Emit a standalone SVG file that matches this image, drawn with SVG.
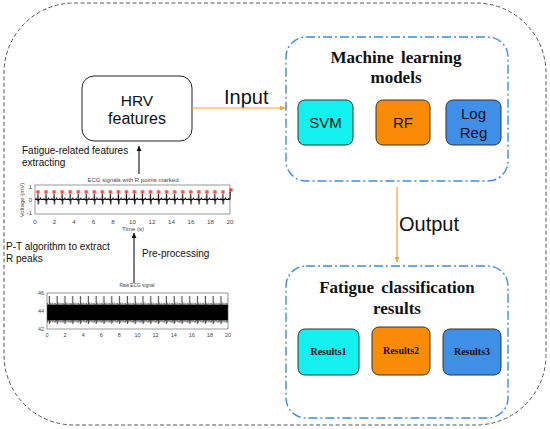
<svg xmlns="http://www.w3.org/2000/svg" width="550" height="429" viewBox="0 0 550 429">
<style>
.sans{font-family:"Liberation Sans",Arial,sans-serif;fill:#111}
.serif{font-family:"Liberation Serif","Times New Roman",serif;font-weight:bold;fill:#111}
.tick{font-family:"Liberation Sans",Arial,sans-serif;fill:#444}
.dd{fill:none;stroke:#3C8DDA;stroke-width:1.4;stroke-dasharray:9 3 2 3}
.mbox{stroke:#333;stroke-width:1}
.ax{fill:none;stroke:#555;stroke-width:0.6}
</style>
<defs>
<marker id="ao" viewBox="0 0 10 10" refX="10" refY="5" markerWidth="5" markerHeight="5" markerUnits="userSpaceOnUse" orient="auto"><path d="M0,0L10,5L0,10z" fill="#F2A33A"/></marker>
<marker id="ab" viewBox="0 0 10 10" refX="10" refY="5" markerWidth="5" markerHeight="5" markerUnits="userSpaceOnUse" orient="auto"><path d="M0,0L10,5L0,10z" fill="#111"/></marker>
<pattern id="beat" patternUnits="userSpaceOnUse" x="34" y="185" width="8.04" height="29">
<path d="M0,14.5L1.2,14.5L1.8,13.6L2.4,14.5L3.4,14.5L3.7,15.6L4,8.5L4.3,19.5L4.7,14.5L5.9,14.5L6.7,13L7.4,14.5L8.04,14.5" fill="none" stroke="#000" stroke-width="1"/>
<circle cx="4" cy="7" r="2.3" fill="#F6A0A0"/>
<path d="M2.4,7H5.6M4,5.4V8.6M2.9,5.9L5.1,8.1M5.1,5.9L2.9,8.1" stroke="#E83030" stroke-width="0.6"/>
</pattern>
<pattern id="raw" patternUnits="userSpaceOnUse" x="47" y="293" width="7.8" height="36">
<rect x="0" y="12" width="7.8" height="15" fill="#000"/>
<path d="M0.5,10V29.5M1.4,11V28.4M3.2,9.6V29.8M4.1,11V28M5,9.6V29.2M6,10.8V28.6M7,10.2V29.6" stroke="#000" stroke-width="0.6"/>
<path d="M2.3,3V31" stroke="#000" stroke-width="0.8"/>
</pattern>
</defs>

<rect id="outer" x="4" y="3" width="542" height="422" rx="70" fill="none" stroke="#555" stroke-width="1" stroke-dasharray="4 2.5"/>

<g id="hrv">
<rect x="82" y="76" width="110" height="65" rx="12" fill="#fff" stroke="#222" stroke-width="1"/>
<text class="sans" x="137" y="106" font-size="15.5" text-anchor="middle">HRV</text>
<text class="sans" x="137" y="124" font-size="16" text-anchor="middle">features</text>
</g>

<g id="ml">
<rect x="286" y="37" width="222" height="144" rx="20" class="dd"/>
<text class="serif" x="396" y="63" font-size="17" word-spacing="3" text-anchor="middle">Machine learning</text>
<text class="serif" x="396" y="83" font-size="17" text-anchor="middle">models</text>
<g id="svm"><rect x="298" y="100" width="55" height="45" rx="7" fill="#12F0F0" class="mbox"/>
<text class="sans" x="325.5" y="128" font-size="15" text-anchor="middle">SVM</text></g>
<g id="rf"><rect x="376" y="100" width="54" height="45" rx="7" fill="#F98B06" class="mbox"/>
<text class="sans" x="403" y="128" font-size="15" text-anchor="middle">RF</text></g>
<g id="logreg"><rect x="446" y="100" width="55" height="45" rx="7" fill="#3F8FE6" class="mbox"/>
<text class="sans" x="473.5" y="119" font-size="15" text-anchor="middle">Log</text>
<text class="sans" x="473.5" y="138" font-size="15" text-anchor="middle">Reg</text></g>
</g>

<g id="results">
<rect x="286" y="266" width="222" height="152" rx="20" class="dd"/>
<text class="serif" x="397" y="293" font-size="17" word-spacing="3" text-anchor="middle">Fatigue classification</text>
<text class="serif" x="397" y="314" font-size="17" text-anchor="middle">results</text>
<g id="r1"><rect x="298" y="329" width="61" height="46" rx="7" fill="#12F0F0" class="mbox"/>
<text class="serif" x="328.5" y="355" font-size="10" text-anchor="middle">Results1</text></g>
<g id="r2"><rect x="372" y="327" width="58" height="48" rx="7" fill="#F98B06" class="mbox"/>
<text class="serif" x="401" y="354" font-size="10" text-anchor="middle">Results2</text></g>
<g id="r3"><rect x="443" y="329" width="58" height="46" rx="7" fill="#3F8FE6" class="mbox"/>
<text class="serif" x="472" y="355" font-size="10" text-anchor="middle">Results3</text></g>
</g>

<g id="ecg-rmarked">
<text class="tick" x="133" y="182" font-size="6" text-anchor="middle">ECG signals with R points marked</text>
<rect x="35" y="185" width="195" height="29" fill="url(#beat)"/>
<path d="M227,199.5L228.2,199.5L228.8,198.6L229.4,199.5L230,199.5L230.3,192" fill="none" stroke="#000" stroke-width="1"/>
<circle cx="231" cy="190" r="2.3" fill="#F6A0A0"/>
<path d="M229.4,190H232.6M231,188.4V191.6M229.9,188.9L232.1,191.1M232.1,188.9L229.9,191.1" stroke="#E83030" stroke-width="0.6"/>
<rect x="35" y="185" width="195" height="29" class="ax"/>
<g class="tick" font-size="6" text-anchor="end">
<text x="32" y="189">1</text><text x="32" y="201.5">0</text><text x="32" y="215">-1</text>
</g>
<g class="tick" font-size="6.2" text-anchor="middle">
<text x="35" y="224">0</text><text x="54.5" y="224">2</text><text x="74" y="224">4</text><text x="93.5" y="224">6</text><text x="113" y="224">8</text><text x="132.5" y="224">10</text><text x="152" y="224">12</text><text x="171.5" y="224">14</text><text x="191" y="224">16</text><text x="210.5" y="224">18</text><text x="230" y="224">20</text>
</g>
<text class="tick" x="133" y="231" font-size="6" text-anchor="middle">Time (s)</text>
<text class="tick" transform="translate(24,200) rotate(-90)" font-size="6" text-anchor="middle">Voltage (mV)</text>
</g>

<g id="ecg-raw">
<text class="tick" x="137" y="287" font-size="4.8" text-anchor="middle">Raw ECG signal</text>
<rect x="47" y="293" width="181" height="36" fill="url(#raw)"/>
<rect x="47" y="293" width="181" height="36" class="ax"/>
<g class="tick" font-size="5.5" text-anchor="end">
<text x="44" y="295">46</text><text x="44" y="313">44</text><text x="44" y="331">42</text>
</g>
<g class="tick" font-size="5.5" text-anchor="middle">
<text x="47" y="337">0</text><text x="65.1" y="337">2</text><text x="83.2" y="337">4</text><text x="101.3" y="337">6</text><text x="119.4" y="337">8</text><text x="137.5" y="337">10</text><text x="155.6" y="337">12</text><text x="173.7" y="337">14</text><text x="191.8" y="337">16</text><text x="209.9" y="337">18</text><text x="228" y="337">20</text>
</g>
</g>

<g id="labels">
<text class="sans" x="22" y="154" font-size="10">Fatigue-related features</text>
<text class="sans" x="22" y="166" font-size="10">extracting</text>
<text class="sans" x="6" y="250" font-size="10">P-T algorithm to extract</text>
<text class="sans" x="6" y="262" font-size="10">R peaks</text>
<text class="sans" x="142" y="257" font-size="10">Pre-processing</text>
<text class="sans" x="224" y="104" font-size="20">Input</text>
<text class="sans" x="399" y="231" font-size="20">Output</text>
</g>

<g id="connectors">
<line x1="192" y1="108" x2="285" y2="108" stroke="#F2A33A" stroke-width="1.2" marker-end="url(#ao)"/>
<line x1="397" y1="187" x2="397" y2="262" stroke="#F2A33A" stroke-width="1.2" marker-end="url(#ao)"/>
<line x1="139" y1="174" x2="139" y2="146" stroke="#111" stroke-width="1.1" marker-end="url(#ab)"/>
<line x1="134" y1="283" x2="134" y2="233" stroke="#111" stroke-width="1.1" marker-end="url(#ab)"/>
</g>
</svg>
